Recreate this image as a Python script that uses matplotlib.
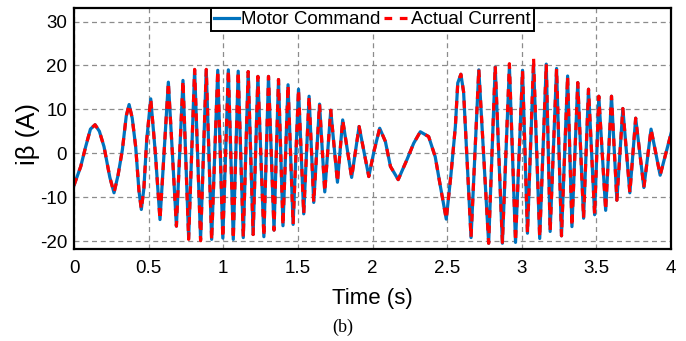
import matplotlib
matplotlib.use("Agg")
from matplotlib import pyplot as plt

# extrema and a few slope points, time in s, current in A
time_s = [
    0.000, 0.045, 0.078, 0.110, 0.141, 0.170, 0.201, 0.240, 0.268, 0.295,
    0.324, 0.350, 0.369, 0.390, 0.413, 0.435, 0.451, 0.468, 0.487, 0.514,
    0.545, 0.576, 0.604, 0.632, 0.659, 0.686, 0.708, 0.730, 0.768, 0.808,
    0.848, 0.886, 0.922, 0.963, 0.997, 1.034, 1.067, 1.100, 1.134, 1.167,
    1.200, 1.232, 1.272, 1.303, 1.340, 1.370, 1.400, 1.434, 1.468, 1.504,
    1.539, 1.575, 1.606, 1.645, 1.680, 1.720, 1.765, 1.800, 1.860, 1.910,
    1.975, 2.010, 2.048, 2.086, 2.120, 2.172, 2.230, 2.276, 2.320, 2.376,
    2.420, 2.455, 2.494, 2.525, 2.555, 2.571, 2.592, 2.610, 2.660, 2.712,
    2.778, 2.822, 2.870, 2.917, 2.958, 3.005, 3.038, 3.079, 3.120, 3.164,
    3.190, 3.233, 3.266, 3.307, 3.336, 3.375, 3.414, 3.447, 3.488, 3.516,
    3.562, 3.601, 3.637, 3.677, 3.724, 3.763, 3.818, 3.866, 3.927, 4.000,
]
motor_command = [
    -7.3, -3.0, 1.5, 5.5, 6.5, 5.0, 1.5, -5.5, -9.0, -5.0,
    0.8, 8.5, 11.1, 8.0, 1.5, -8.5, -12.8, -8.0, 3.0, 12.4,
    0.0, -15.1, 0.5, 16.2, 0.0, -16.6, 0.0, 16.6, -19.3, 19.0,
    -19.6, 19.0, -19.6, 18.9, -19.3, 19.0, -19.6, 18.7, -19.2, 18.6,
    -18.5, 17.5, -19.0, 17.5, -17.5, 16.8, -16.5, 15.6, -16.2, 14.6,
    -13.8, 13.0, -11.2, 11.2, -8.8, 9.8, -6.6, 7.6, -5.5, 6.1,
    -5.3, 0.5, 5.7, 2.7, -3.0, -6.0, -1.5, 2.3, 4.9, 3.8,
    -0.8, -7.6, -15.0, -5.0, 6.1, 16.0, 18.0, 14.0, -19.2, 19.0,
    -20.5, 19.6, -20.5, 19.8, -20.3, 18.9, -18.2, 20.3, -19.4, 20.3,
    -17.8, 19.3, -18.8, 17.6, -16.7, 16.1, -14.8, 14.6, -14.0, 13.0,
    -13.0, 13.0, -10.7, 10.2, -9.0, 8.0, -7.8, 5.5, -5.0, 4.5,
]
actual_current = [
    -7.3, -3.0, 1.5, 5.5, 6.5, 5.0, 1.5, -5.5, -9.0, -5.0,
    0.8, 8.5, 11.1, 8.0, 1.5, -8.5, -12.8, -8.0, 3.0, 12.4,
    0.0, -15.1, 0.5, 16.2, 0.0, -16.6, 0.0, 16.6, -19.6, 19.1,
    -19.9, 19.1, -19.9, 18.9, -19.3, 19.0, -19.6, 18.7, -19.2, 18.6,
    -18.5, 17.5, -19.0, 17.5, -17.5, 16.8, -16.5, 15.6, -16.2, 14.6,
    -13.8, 13.0, -11.2, 11.2, -8.8, 9.8, -6.6, 7.6, -5.5, 6.1,
    -5.3, 0.5, 5.7, 2.7, -3.0, -6.0, -1.5, 2.3, 4.9, 3.8,
    -0.8, -7.6, -15.0, -5.0, 6.1, 16.0, 18.0, 14.0, -19.2, 19.2,
    -20.5, 20.0, -20.3, 20.4, -20.1, 18.9, -18.2, 21.6, -19.2, 20.3,
    -17.8, 19.3, -18.8, 17.6, -16.7, 16.1, -14.8, 14.6, -14.0, 13.0,
    -13.0, 13.0, -10.7, 10.2, -9.0, 8.0, -7.8, 5.5, -5.0, 4.5,
]

x_ticks = [0, 0.5, 1, 1.5, 2, 2.5, 3, 3.5, 4]
x_tick_labels = ["0", "0.5", "1", "1.5", "2", "2.5", "3", "3.5", "4"]
y_ticks = [-20, -10, 0, 10, 20, 30]
y_tick_labels = ["-20", "-10", "0", "10", "20", "30"]


def main() -> None:
    plt.rcParams["font.family"] = ["Liberation Sans", "DejaVu Sans"]

    fig = plt.figure(figsize=(6.86, 3.41), dpi=100)
    ax = fig.add_axes([0.1079, 0.2698, 0.8703, 0.7082])

    ax.plot(time_s, motor_command, color="#0072BD", lw=2.3, label="Motor Command")
    ax.plot(time_s, actual_current, color="#FF0000", lw=2.3,
            linestyle=(0, (2.4, 2.4)), label="Actual Current")

    ax.set_xlim(0, 4)
    ax.set_ylim(-21.8, 33.2)
    ax.set_xticks(x_ticks, x_tick_labels)
    ax.set_yticks(y_ticks, y_tick_labels)
    ax.tick_params(axis="both", direction="in", length=0, labelsize=13.5)
    ax.tick_params(axis="x", pad=8)
    ax.tick_params(axis="y", pad=5)

    ax.grid(True, color="#8c8c8c", linestyle=(0, (4, 3)), linewidth=0.9)
    ax.set_axisbelow(True)
    for spine in ax.spines.values():
        spine.set_linewidth(1.6)
        spine.set_color("black")

    ax.set_xlabel("Time (s)", fontsize=16, va="center")
    ax.xaxis.set_label_coords(0.5, -0.203)
    ax.set_ylabel("iβ (A)", fontsize=18.5, va="center")
    ax.yaxis.set_label_coords(-0.077, 0.476)

    leg = ax.legend(loc="upper center", ncol=2, fontsize=13.5, frameon=True,
                    fancybox=False, borderaxespad=0.05, borderpad=0.15,
                    handlelength=1.35, handletextpad=0.1, columnspacing=0.2)
    leg.get_frame().set_edgecolor("black")
    leg.get_frame().set_linewidth(1.4)
    leg.get_frame().set_alpha(1.0)

    fig.text(0.5, 1 - 327 / 341, "(b)", ha="center", va="center",
             family="Liberation Serif", fontsize=13)

    fig.savefig("out.png", dpi=100)


if __name__ == "__main__":
    main()
